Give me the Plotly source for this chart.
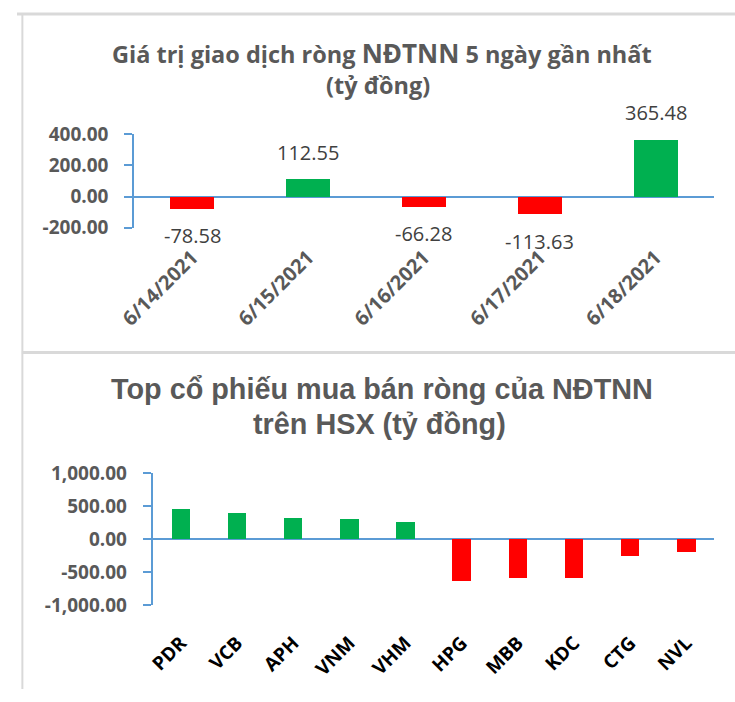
import plotly.graph_objects as go

# ---- data ----
dates = ["6/14/2021", "6/15/2021", "6/16/2021", "6/17/2021", "6/18/2021"]
net_values = [-78.58, 112.55, -66.28, -113.63, 365.48]
net_labels = ["-78.58", "112.55", "-66.28", "-113.63", "365.48"]

tickers = ["PDR", "VCB", "APH", "VNM", "VHM", "HPG", "MBB", "KDC", "CTG", "NVL"]
ticker_values = [466, 394, 321, 306, 262, -627, -593, -583, -248, -200]

top_tickvals = [-200, 0, 200, 400]
top_ticktext = ["-200.00", "0.00", "200.00", "400.00"]
bot_tickvals = [-1000, -500, 0, 500, 1000]
bot_ticktext = ["-1,000.00", "-500.00", "0.00", "500.00", "1,000.00"]

GREEN = "#00B050"
RED = "#FF0000"
BLUE = "#5B9BD5"
GRAY = "#595959"
W, H = 735, 702

def px_x(p):
    return p / W

def px_y(p):
    return 1 - p / H

fig = go.Figure()

fig.add_trace(go.Bar(
    x=dates, y=net_values, width=0.38,
    marker=dict(color=[GREEN if v >= 0 else RED for v in net_values], line=dict(width=0)),
    xaxis="x", yaxis="y", showlegend=False, hoverinfo="skip"))

fig.add_trace(go.Bar(
    x=tickers, y=ticker_values, width=0.33,
    marker=dict(color=[GREEN if v >= 0 else RED for v in ticker_values], line=dict(width=0)),
    xaxis="x2", yaxis="y2", showlegend=False, hoverinfo="skip"))

yaxis_common = dict(
    showline=True, linecolor=BLUE, linewidth=2,
    ticks="outside", ticklen=8, tickcolor=BLUE, tickwidth=2,
    showgrid=False, zeroline=True, zerolinecolor=BLUE, zerolinewidth=2,
    tickfont=dict(family="Open Sans", size=19, color=GRAY, weight="bold"),
    ticklabelstandoff=12, fixedrange=True,
)

fig.update_layout(
    width=W, height=H,
    margin=dict(l=0, r=0, t=0, b=0),
    paper_bgcolor="white", plot_bgcolor="white",
    bargap=0,
    xaxis=dict(domain=[px_x(120), px_x(713)], anchor="y", type="category",
               showline=False, ticks="", showgrid=False, tickangle=-45,
               ticklabelstandoff=13, fixedrange=True,
               tickfont=dict(family="Open Sans", size=20, color=GRAY, weight="bold")),
    yaxis=dict(domain=[px_y(223), px_y(126)], anchor="x", range=[-200, 400],
               tickvals=top_tickvals, ticktext=top_ticktext, **yaxis_common),
    xaxis2=dict(domain=[px_x(139), px_x(714)], anchor="y2", type="category",
                showline=False, ticks="", showgrid=False, tickangle=-45,
                ticklabelstandoff=22, fixedrange=True,
                tickfont=dict(family="Open Sans", size=19, color="black", weight="bold")),
    yaxis2=dict(domain=[px_y(615), px_y(478)], anchor="x2", range=[-1000, 1000],
                tickvals=bot_tickvals, ticktext=bot_ticktext, **yaxis_common),
)

# data labels
for d, v, t in zip(dates, net_values, net_labels):
    fig.add_annotation(x=d, y=v, xref="x", yref="y", text=t, showarrow=False,
                       yshift=27 if v >= 0 else -27,
                       font=dict(family="Open Sans", size=20, color="#404040"))

# titles
fig.add_annotation(x=px_x(374), y=px_y(42), xref="paper", yref="paper",
                   text="Giá trị giao dịch ròng <span style='font-size:26px'>NĐTNN</span> 5 ngày gần nhất",
                   showarrow=False, xanchor="center", yanchor="middle",
                   font=dict(family="Open Sans", size=23.5, color=GRAY, weight="bold"))
fig.add_annotation(x=px_x(370), y=px_y(75), xref="paper", yref="paper",
                   text="(tỷ đồng)", showarrow=False, xanchor="center", yanchor="middle",
                   font=dict(family="Open Sans", size=23.5, color=GRAY, weight="bold"))
fig.add_annotation(x=px_x(374), y=px_y(390), xref="paper", yref="paper",
                   text="Top cổ phiếu mua bán ròng của NĐTNN", showarrow=False,
                   xanchor="center", yanchor="middle",
                   font=dict(family="Liberation Sans", size=28.8, color=GRAY, weight="bold"))
fig.add_annotation(x=px_x(371), y=px_y(427), xref="paper", yref="paper",
                   text="trên HSX (tỷ đồng)", showarrow=False,
                   xanchor="center", yanchor="middle",
                   font=dict(family="Liberation Sans", size=28.8, color=GRAY, weight="bold"))

# frame lines
BORDER = "#D9D9D9"
fig.add_shape(type="line", xref="paper", yref="paper", x0=0, x1=1, y0=px_y(1), y1=px_y(1),
              line=dict(color=BORDER, width=3))
fig.add_shape(type="line", xref="paper", yref="paper", x0=px_x(5.5), x1=px_x(5.5), y0=0, y1=1,
              line=dict(color=BORDER, width=2))
fig.add_shape(type="line", xref="paper", yref="paper", x0=px_x(5), x1=1, y0=px_y(352.5), y1=px_y(352.5),
              line=dict(color=BORDER, width=3))

fig.write_html("out.html", config={"displayModeBar": False, "staticPlot": True},
               post_script="document.body.style.margin='0px';document.body.style.overflow='hidden';")
